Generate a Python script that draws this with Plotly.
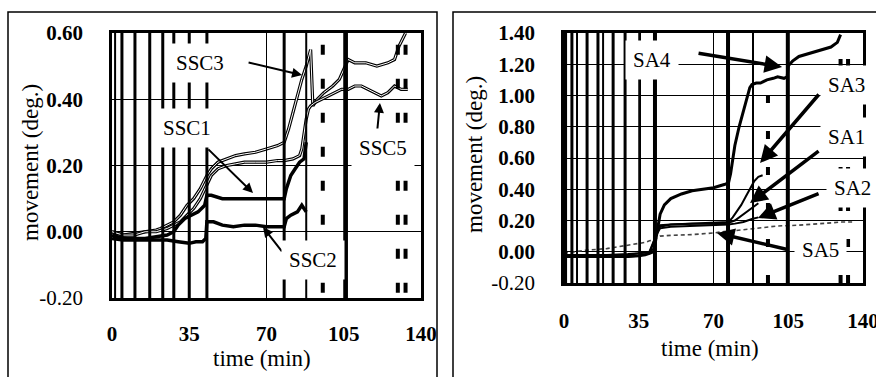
import plotly.graph_objects as go

# ---------------- data: left panel (SSC) ----------------
ssc1_t = [0, 5, 10, 15, 20, 25, 28, 30, 33, 36, 39, 42, 43, 45, 50, 55, 60, 65, 70, 75, 78, 79, 81, 83, 85, 87, 88]
ssc1_v = [-0.01, -0.02, -0.02, -0.02, -0.015, -0.01, 0.0, 0.02, 0.04, 0.05, 0.06, 0.08, 0.11, 0.11, 0.10, 0.10,
          0.10, 0.10, 0.10, 0.10, 0.10, 0.13, 0.17, 0.19, 0.21, 0.22, 0.27]

ssc2_t = [0, 5, 10, 15, 20, 25, 30, 35, 38, 41, 42.5, 43, 46, 50, 55, 60, 65, 70, 75, 78, 79, 81, 84, 86, 88]
ssc2_v = [-0.02, -0.025, -0.025, -0.025, -0.025, -0.025, -0.03, -0.035, -0.03, -0.03, -0.02, 0.03, 0.03, 0.02,
          0.015, 0.02, 0.02, 0.015, 0.015, 0.015, 0.04, 0.05, 0.06, 0.08, 0.06]

ssc3_t = [0, 5, 10, 15, 20, 22, 25, 28, 31, 34, 37, 40, 43, 45, 48, 52, 56, 60, 65, 70, 75, 78, 80, 82, 84, 86,
          88, 90, 91, 93, 96, 100, 103, 105, 107, 110, 115, 120, 125, 128, 130, 133]
ssc3_v = [0.0, -0.01, -0.005, 0.0, 0.005, 0.01, 0.02, 0.03, 0.05, 0.08, 0.10, 0.13, 0.17, 0.19, 0.21, 0.22, 0.23,
          0.235, 0.24, 0.25, 0.26, 0.27, 0.31, 0.36, 0.41, 0.46, 0.50, 0.55, 0.38, 0.40, 0.42, 0.44, 0.46, 0.49,
          0.52, 0.51, 0.51, 0.50, 0.51, 0.52, 0.56, 0.60]

ssc5_t = [0, 5, 10, 15, 20, 25, 28, 31, 34, 37, 40, 43, 45, 48, 52, 56, 60, 65, 70, 75, 78, 82, 85, 86, 87, 88,
          89, 90, 92, 95, 98, 101, 104, 107, 110, 113, 116, 119, 122, 125, 128, 131, 134]
ssc5_v = [0.0, -0.01, -0.01, 0.0, 0.0, 0.01, 0.02, 0.03, 0.05, 0.07, 0.10, 0.14, 0.17, 0.19, 0.20, 0.205, 0.21,
          0.21, 0.21, 0.215, 0.215, 0.22, 0.23, 0.25, 0.30, 0.34, 0.37, 0.38, 0.39, 0.40, 0.41, 0.42, 0.43, 0.43,
          0.44, 0.44, 0.43, 0.42, 0.41, 0.42, 0.44, 0.43, 0.43]

# ---------------- data: right panel (SA) ----------------
sa4_t = [0, 5, 10, 15, 20, 25, 30, 35, 38, 40, 42, 43, 44, 45, 47, 50, 55, 60, 65, 70, 75, 77, 78, 79, 80, 82,
         84, 86, 87, 88, 90, 92, 95, 98, 100, 103, 104.5, 105, 107, 110, 115, 120, 125, 128, 129.5]
sa4_v = [-0.03, -0.03, -0.03, -0.03, -0.03, -0.03, -0.03, -0.025, -0.02, -0.01, 0.0, 0.08, 0.17, 0.24, 0.30, 0.34,
         0.37, 0.39, 0.40, 0.41, 0.43, 0.44, 0.50, 0.60, 0.68, 0.80, 0.90, 1.00, 1.05, 1.07, 1.08, 1.08, 1.10,
         1.11, 1.12, 1.11, 1.12, 1.19, 1.22, 1.25, 1.27, 1.29, 1.31, 1.34, 1.39]

sa3_t = [0, 10, 20, 30, 35, 40, 42, 43, 45, 50, 60, 70, 77, 79, 81, 83, 85, 87, 89, 91, 93]
sa3_v = [-0.02, -0.02, -0.02, -0.015, -0.01, 0.0, 0.02, 0.12, 0.16, 0.175, 0.18, 0.185, 0.19, 0.22, 0.26, 0.30,
         0.35, 0.40, 0.45, 0.48, 0.49]

sa1_t = [0, 10, 20, 30, 35, 40, 43, 45, 50, 60, 70, 77, 80, 83, 86, 89, 91]
sa1_v = [-0.03, -0.03, -0.03, -0.03, -0.025, -0.01, 0.10, 0.17, 0.175, 0.18, 0.18, 0.185, 0.20, 0.23, 0.26, 0.29,
         0.31]

sa2_t = [0, 10, 20, 30, 35, 40, 43, 45, 50, 60, 70, 77, 80, 84, 88, 91]
sa2_v = [-0.03, -0.03, -0.03, -0.02, -0.01, 0.0, 0.10, 0.15, 0.16, 0.165, 0.17, 0.175, 0.18, 0.19, 0.21, 0.22]

sa5_t = [0, 5, 10, 20, 25, 30, 35, 38, 40, 42, 43, 45, 50, 60, 70, 75, 80, 90, 100, 110, 120, 130, 135]
sa5_v = [-0.01, 0.0, 0.01, 0.02, 0.03, 0.04, 0.05, 0.06, 0.07, 0.075, 0.085, 0.10, 0.105, 0.11, 0.12, 0.13, 0.135,
         0.15, 0.165, 0.17, 0.18, 0.19, 0.19]

x_ticks = [0, 35, 70, 105, 140]
left_y_ticks = [-0.2, 0.0, 0.2, 0.4, 0.6]
left_y_text = ["-0.20", "<b>0.00</b>", "<b>0.20</b>", "<b>0.40</b>", "<b>0.60</b>"]
right_y_ticks = [-0.2, 0.0, 0.2, 0.4, 0.6, 0.8, 1.0, 1.2, 1.4]
right_y_text = ["-0.20", "<b>0.00</b>", "<b>0.20</b>", "<b>0.40</b>", "<b>0.60</b>", "<b>0.80</b>",
                "<b>1.00</b>", "<b>1.20</b>", "<b>1.40</b>"]

# scanned event markers (time, line width)
left_vlines = [(1.4, 2), (4.5, 3), (10.4, 3), (17.1, 3), (23, 3), (28, 3), (35, 3), (43, 3), (78, 3), (88, 2),
               (106, 4)]
right_vlines = [(0.5, 4), (3.7, 3), (6.1, 2), (10.8, 3), (15.9, 3), (18.3, 2), (23, 3), (28.6, 3), (35.6, 2),
                (42.6, 4), (76.8, 4), (88.5, 2), (104.8, 4)]
dash_cols = [95.5, 129.5, 133]

FONT = "Liberation Serif, Times New Roman, serif"

fig = go.Figure()

def line(t, v, xa, ya, w, color="black", dash="solid"):
    fig.add_trace(go.Scatter(x=t, y=v, xaxis=xa, yaxis=ya, mode="lines",
                             line=dict(color=color, width=w, dash=dash), showlegend=False,
                             hoverinfo="skip"))

# left traces
line(ssc3_t, ssc3_v, "x", "y", 3.2)
line(ssc3_t, ssc3_v, "x", "y", 1.0, color="white")
line(ssc5_t, ssc5_v, "x", "y", 3.2)
line(ssc5_t, ssc5_v, "x", "y", 1.0, color="white")
line(ssc1_t, ssc1_v, "x", "y", 3.5)
line(ssc2_t, ssc2_v, "x", "y", 3.5)

# right traces
line(sa5_t, sa5_v, "x2", "y2", 1.6, color="#444", dash="4px,3px")
line(sa2_t, sa2_v, "x2", "y2", 2)
line(sa1_t, sa1_v, "x2", "y2", 2)
line(sa3_t, sa3_v, "x2", "y2", 2)
line(sa4_t, sa4_v, "x2", "y2", 3)

W, H = 876, 377
ax_common = dict(showline=True, mirror=True, linecolor="black", linewidth=2.5, showgrid=True,
                 gridcolor="black", gridwidth=1, zeroline=False, ticks="", automargin=False,
                 tickfont=dict(family=FONT, size=21, color="black"))

fig.update_layout(
    template="none",
    width=W, height=H, margin=dict(l=0, r=0, t=0, b=0, pad=0), autosize=False,
    paper_bgcolor="white", plot_bgcolor="white",
    font=dict(family=FONT, size=21, color="black"),
    xaxis=dict(domain=[112 / W, 421 / W], range=[0, 140], tickvals=x_ticks, ticklabeloverflow="allow",
               ticktext=[f"<b>{v}</b>" for v in x_ticks], anchor="y", ticklabelstandoff=15, **ax_common),
    yaxis=dict(domain=[1 - 298 / H, 1 - 33 / H], range=[-0.2, 0.6], tickvals=left_y_ticks,
               ticktext=left_y_text, anchor="x", ticklabelstandoff=22, **ax_common),
    xaxis2=dict(domain=[564 / W, 863 / W], range=[0, 140], tickvals=x_ticks, ticklabeloverflow="allow",
                ticktext=[f"<b>{v}</b>" for v in x_ticks], anchor="y2", ticklabelstandoff=17, **ax_common),
    yaxis2=dict(domain=[1 - 283 / H, 1 - 33 / H], range=[-0.2, 1.4], tickvals=right_y_ticks,
                ticktext=right_y_text, anchor="x2", ticklabelstandoff=22, **ax_common),
)
fig.update_xaxes(showgrid=False)
for xv in [35, 70, 105]:
    fig.add_shape(type="line", xref="x", yref="y domain", x0=xv, x1=xv, y0=0, y1=1,
                  line=dict(color="black", width=1))
    fig.add_shape(type="line", xref="x2", yref="y2 domain", x0=xv, x1=xv, y0=0, y1=1,
                  line=dict(color="black", width=1))

for t, w in left_vlines:
    fig.add_shape(type="line", xref="x", yref="y domain", x0=t, x1=t, y0=0, y1=1,
                  line=dict(color="black", width=w))
for t, w in right_vlines:
    fig.add_shape(type="line", xref="x2", yref="y2 domain", x0=t, x1=t, y0=0, y1=1,
                  line=dict(color="black", width=w))
for t in dash_cols:
    fig.add_shape(type="line", xref="x", yref="y domain", x0=t, x1=t, y0=0.02, y1=1,
                  line=dict(color="black", width=4, dash="10px,24px"))
    fig.add_shape(type="line", xref="x2", yref="y2 domain", x0=t, x1=t, y0=0, y1=1,
                  line=dict(color="black", width=4, dash="8px,28px"))

# panel frames
fig.add_shape(type="path", xref="paper", yref="paper",
              path=f"M {8/W},0 L {8/W},{1-12/H} L {437/W},{1-12/H} L {437/W},0",
              line=dict(color="black", width=1.5))
fig.add_shape(type="path", xref="paper", yref="paper",
              path=f"M {453/W},0 L {453/W},{1-12/H} L 1,{1-12/H}",
              line=dict(color="black", width=1.5))

lab_font = dict(family=FONT, size=21, color="black")

def label(text, x, y, xa, ya):
    fig.add_annotation(text=text, x=x, y=y, xref=xa, yref=ya, showarrow=False, font=lab_font,
                       bgcolor="white", borderpad=7, xanchor="center", yanchor="middle")

def arrow(x0, y0, x1, y1, xa, ya, w):
    fig.add_annotation(text="", x=x1, y=y1, ax=x0, ay=y0, xref=xa, yref=ya, axref=xa, ayref=ya,
                       showarrow=True, arrowhead=2, arrowsize=1.0, arrowwidth=w, arrowcolor="black")

# left labels + arrows
arrow(61.2, 0.512, 86.1, 0.473, "x", "y", 2)
arrow(43.0, 0.253, 63.9, 0.117, "x", "y", 2)
arrow(77.5, -0.064, 68.4, 0.014, "x", "y", 2)
arrow(120.1, 0.301, 121.4, 0.389, "x", "y", 2)
label("SSC3", 39.9, 0.509, "x", "y")
label("SSC1", 34.0, 0.313, "x", "y")
label("SSC2", 91.1, -0.085, "x", "y")
label("SSC5", 122.8, 0.253, "x", "y")

# right labels + arrows
arrow(62.3, 1.272, 102.1, 1.182, "x2", "y2", 3.5)
arrow(119.9, 1.016, 91.8, 0.568, "x2", "y2", 3.5)
arrow(119.9, 0.651, 87.1, 0.312, "x2", "y2", 3.5)
arrow(119.9, 0.376, 90.8, 0.216, "x2", "y2", 3.5)
arrow(105.8, 0.011, 71.6, 0.12, "x2", "y2", 3.5)
label("SA4", 41.2, 1.227, "x2", "y2")
label("SA3", 132.5, 1.067, "x2", "y2")
label("SA1", 132.5, 0.734, "x2", "y2")
label("SA2", 135.3, 0.408, "x2", "y2")
label("SA5", 119.9, 0.011, "x2", "y2")

# axis titles
def title(text, px, py, angle=0):
    fig.add_annotation(text=text, x=px / W, y=1 - py / H, xref="paper", yref="paper",
                       xanchor="center", yanchor="middle", showarrow=False, textangle=angle,
                       font=dict(family=FONT, size=23, color="black"))

title("movement (deg.)", 31, 163, -90)
title("movement (deg.)", 474, 155, -90)
title("time (min)", 262, 358)
title("time (min)", 710, 348)

fig.write_html("out.html")
